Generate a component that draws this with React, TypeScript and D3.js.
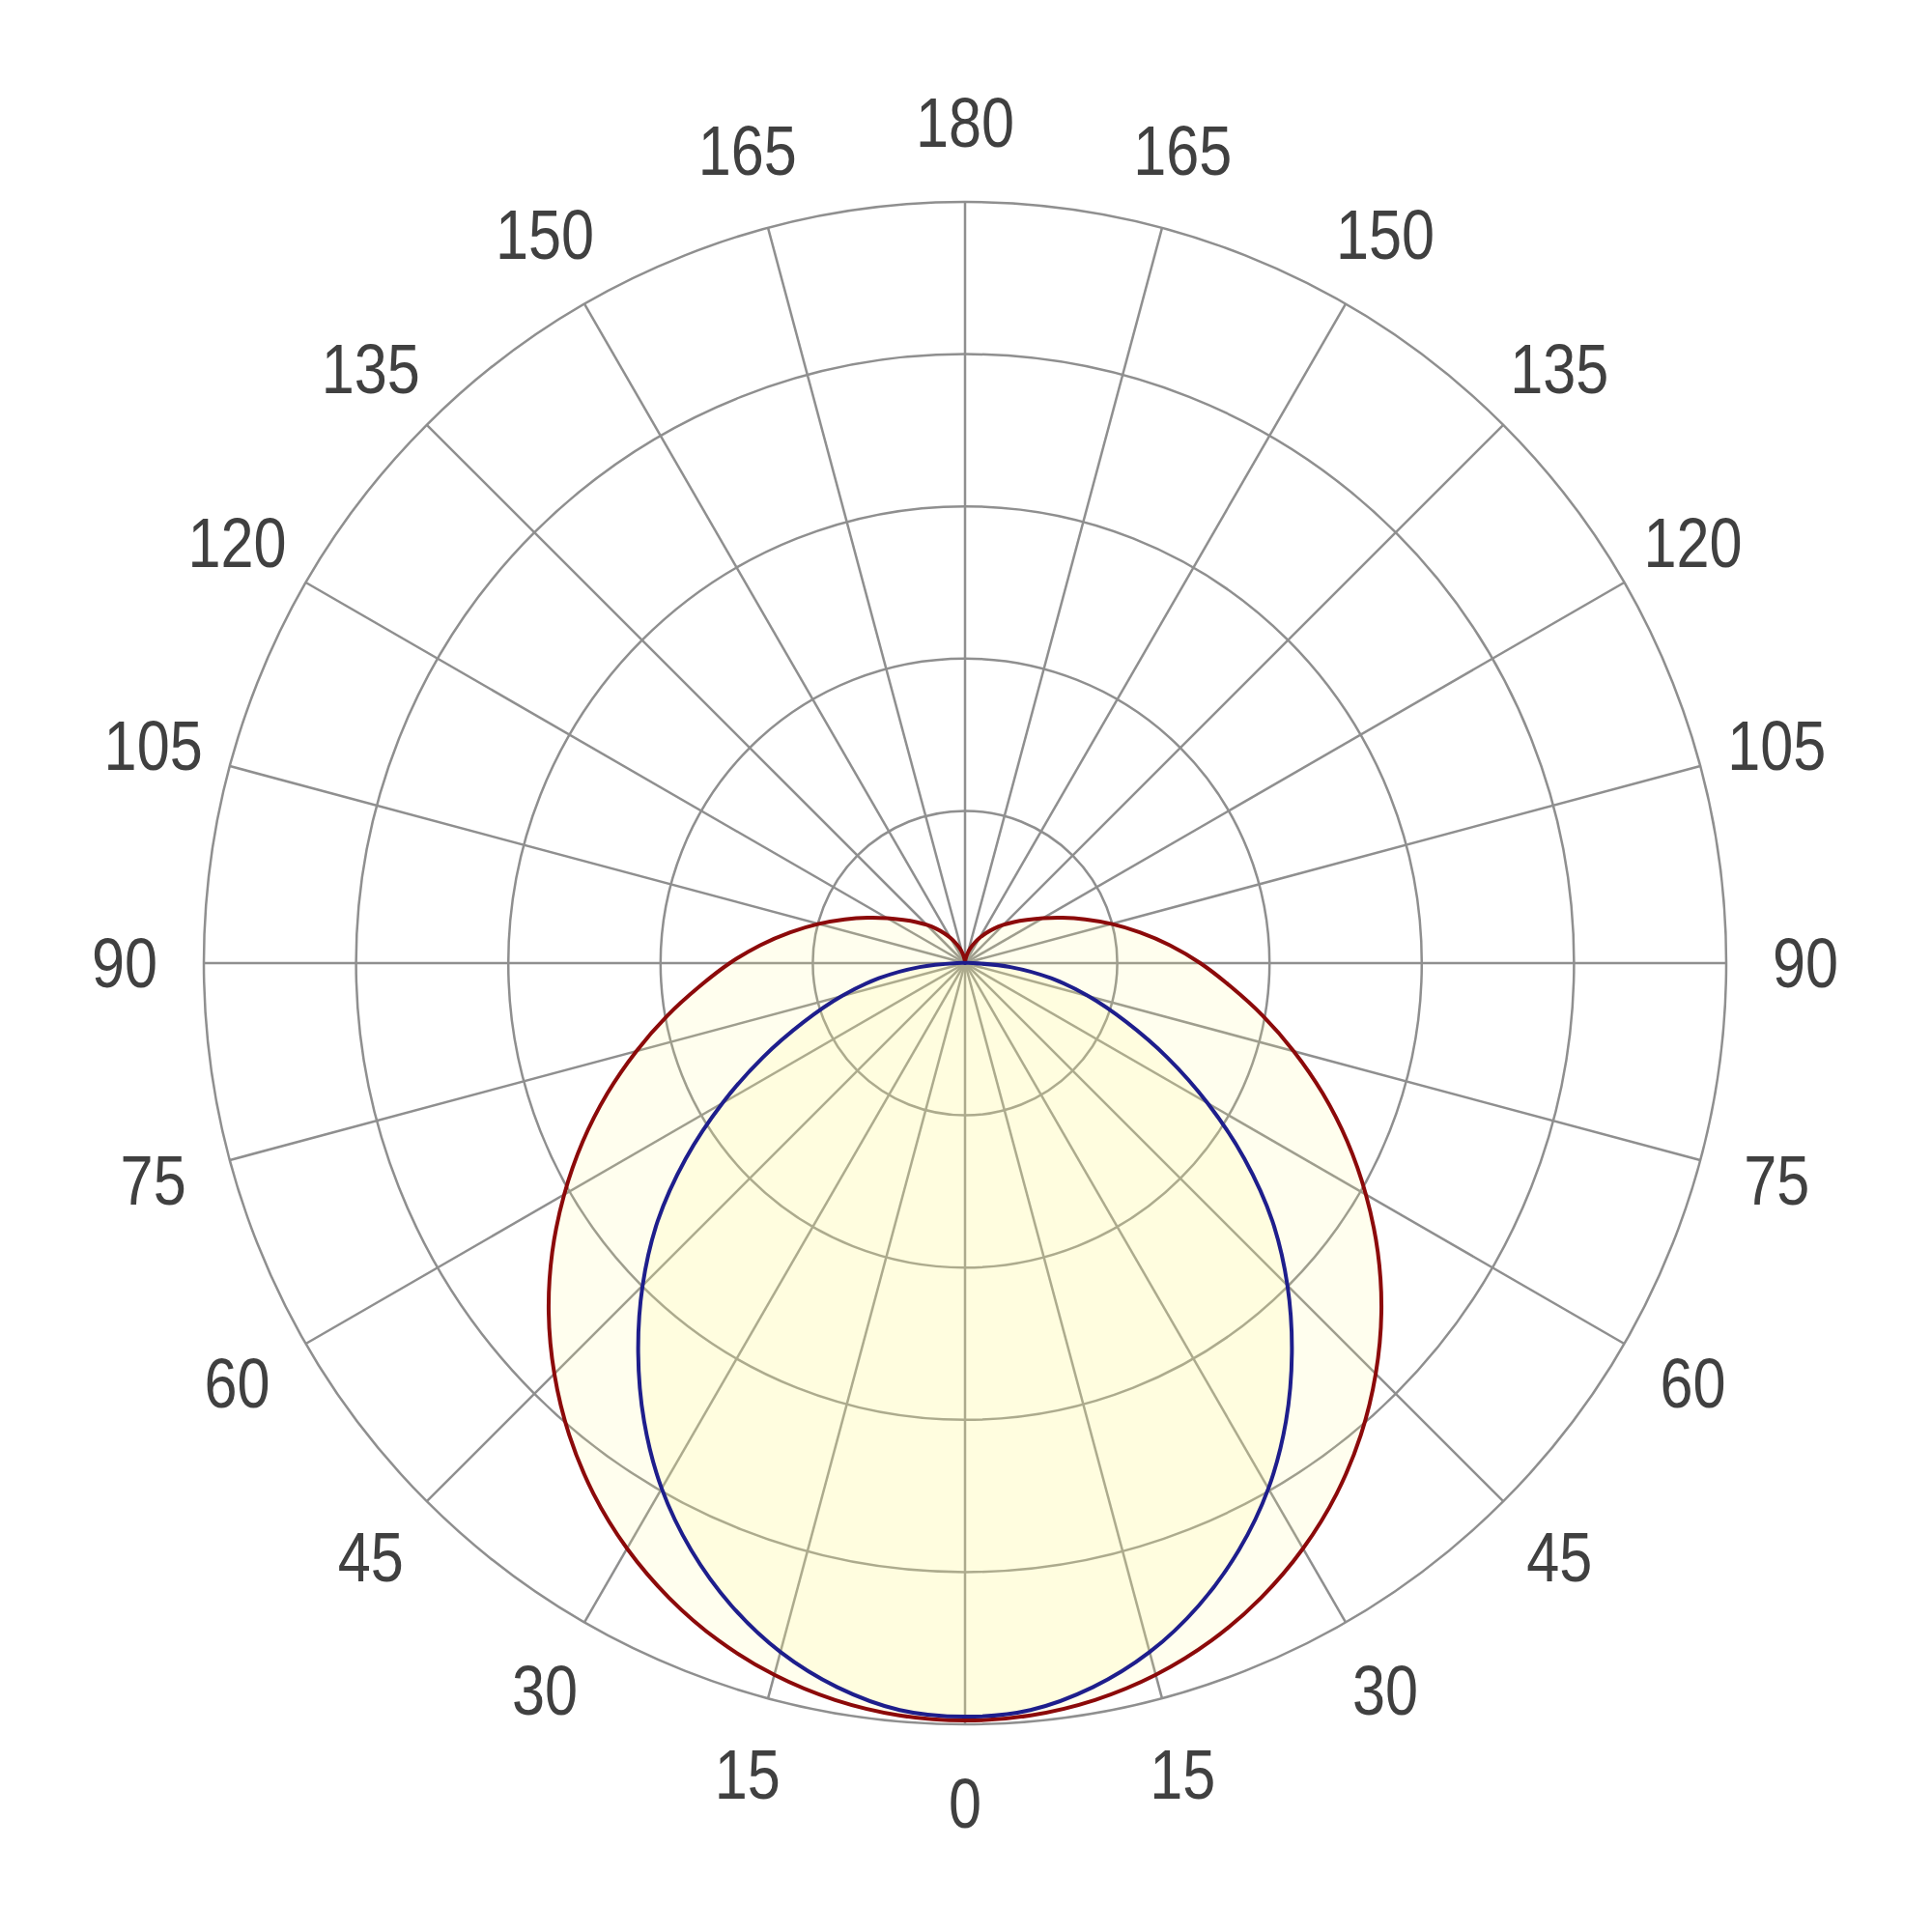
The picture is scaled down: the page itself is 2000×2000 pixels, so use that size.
import React, { useEffect, useRef } from 'react';
import * as d3 from 'd3';

// gamma angles (deg, 0 = straight down) and relative intensities
const angles = [0, 5, 10, 15, 20, 25, 30, 35, 40, 45, 50, 55, 60, 65, 70, 75, 80, 85, 90,
  95, 100, 105, 110, 115, 120, 125, 130, 135, 140, 145, 150, 155, 160, 165, 170, 175, 180];

// C0-C180 plane (red)
const planeC0 = [0.995, 0.992, 0.983, 0.968, 0.947, 0.92, 0.888, 0.851, 0.809, 0.763, 0.714, 0.662,
  0.608, 0.554, 0.5, 0.447, 0.397, 0.35, 0.309, 0.27, 0.233, 0.199, 0.168, 0.141, 0.118, 0.099,
  0.084, 0.071, 0.059, 0.048, 0.038, 0.029, 0.021, 0.014, 0.008, 0.003, 0];

// C90-C270 plane (blue)
const planeC90 = [0.99, 0.985, 0.966, 0.937, 0.898, 0.851, 0.797, 0.735, 0.668, 0.599, 0.527, 0.448,
  0.368, 0.293, 0.225, 0.168, 0.115, 0.06, 0.01, 0.002, 0, 0, 0, 0, 0, 0,
  0, 0, 0, 0, 0, 0, 0, 0, 0, 0, 0];

const rings = [0.2, 0.4, 0.6, 0.8, 1.0];
const rayAngles = d3.range(0, 360, 15);
const labelAngles = [0, 15, 30, 45, 60, 75, 90, 105, 120, 135, 150, 165, 180];

const series = [
  { name: 'C0-C180', values: planeC0, color: '#8c0a0a' },
  { name: 'C90-C270', values: planeC90, color: '#1e1e8c' },
];

function App(): JSX.Element {
  const svgRef = useRef<SVGSVGElement>(null);

  useEffect(() => {
    document.body.style.margin = '0';
    const svg = d3.select(svgRef.current);
    svg.selectAll('*').remove();

    const width = 2000;
    const height = 2000;
    const cx = 999;
    const cy = 997;
    const R = 788;

    const rScale = d3.scaleLinear().domain([0, 1]).range([0, R]);
    // gamma measured from bottom, radial angle measured clockwise from top
    const toRad = (g: number) => ((180 - g) * Math.PI) / 180;

    svg.attr('width', width).attr('height', height).attr('viewBox', `0 0 ${width} ${height}`);

    const g = svg.append('g').attr('transform', `translate(${cx},${cy})`);

    // grid
    const grid = g.append('g').attr('stroke', '#8f8f8f').attr('stroke-width', 2.5).attr('fill', 'none');
    grid.selectAll('circle')
      .data(rings)
      .join('circle')
      .attr('r', d => rScale(d));
    grid.selectAll('line')
      .data(rayAngles)
      .join('line')
      .attr('x1', 0)
      .attr('y1', 0)
      .attr('x2', d => rScale(1) * Math.sin((d * Math.PI) / 180))
      .attr('y2', d => -rScale(1) * Math.cos((d * Math.PI) / 180));

    // one closed outline per plane: right half goes 0..180, left half comes back 175..5
    const outline = (values: number[]) => {
      const pts: [number, number][] = [];
      angles.forEach((a, i) => pts.push([toRad(a), rScale(values[i])]));
      for (let i = angles.length - 2; i > 0; i--) {
        pts.push([toRad(-angles[i]), rScale(values[i])]);
      }
      return pts;
    };

    const radial = d3.lineRadial<[number, number]>()
      .angle(d => d[0])
      .radius(d => d[1])
      .curve(d3.curveCatmullRomClosed.alpha(0.5));

    g.selectAll('.fill')
      .data(series)
      .join('path')
      .attr('class', 'fill')
      .attr('d', d => radial(outline(d.values)))
      .attr('fill', '#fff590')
      .attr('fill-opacity', 0.15)
      .attr('stroke', 'none');

    g.selectAll('.curve')
      .data(series)
      .join('path')
      .attr('class', 'curve')
      .attr('d', d => radial(outline(d.values)))
      .attr('fill', 'none')
      .attr('stroke', d => d.color)
      .attr('stroke-width', 4)
      .attr('stroke-linejoin', 'round');

    // angle labels on both sides
    const labelR = 870;
    const labels: { a: number; side: number }[] = [];
    labelAngles.forEach(a => {
      labels.push({ a, side: 1 });
      if (a !== 0 && a !== 180) labels.push({ a, side: -1 });
    });
    g.selectAll('.lbl')
      .data(labels)
      .join('text')
      .attr('class', 'lbl')
      .attr('transform', d => {
        const x = d.side * labelR * Math.sin((d.a * Math.PI) / 180);
        const y = labelR * Math.cos((d.a * Math.PI) / 180);
        return `translate(${x},${y}) scale(0.85,1)`;
      })
      .attr('text-anchor', 'middle')
      .attr('dominant-baseline', 'central')
      .attr('font-family', '"Liberation Sans", Arial, sans-serif')
      .attr('font-size', 72)
      .attr('fill', '#404040')
      .text(d => d.a);
  }, []);

  return (
    <div style={{ position: 'absolute', left: 0, top: 0 }}>
      <svg ref={svgRef}></svg>
    </div>
  );
}

export default App;
